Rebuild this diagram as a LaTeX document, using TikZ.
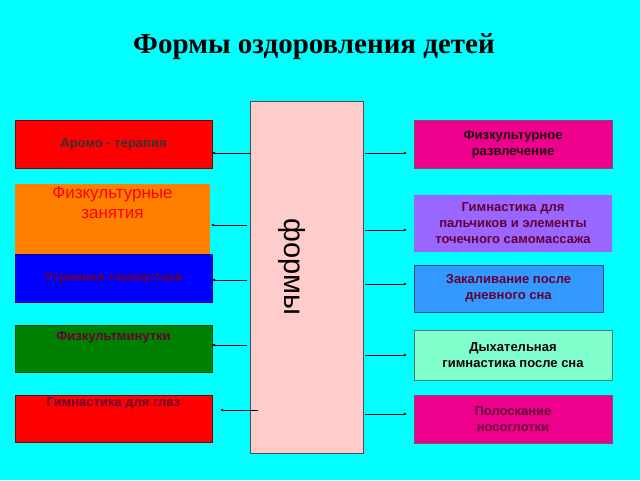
\documentclass[tikz,border=0pt]{standalone}
\usepackage{fontspec}
\setmainfont{Liberation Sans}
\newfontfamily\titlefont{Liberation Serif}
\usetikzlibrary{arrows.meta}
\definecolor{bgcyan}{HTML}{00FFFF}
\definecolor{txtred}{HTML}{660033}
\definecolor{pinkbox}{HTML}{FFCCCC}
\definecolor{purplebox}{HTML}{9966FF}
\definecolor{bluebox}{HTML}{3399FF}
\definecolor{mintbox}{HTML}{80FFCC}
\begin{document}
\begin{tikzpicture}[x=1pt,y=-1pt,
    box/.style n args={3}{draw=#1!50!black,fill=#1,rectangle,
      minimum width=#2pt,minimum height=#3pt,inner sep=0pt,
      align=center,font=\bfseries\fontsize{13}{16}\selectfont,text=txtred},
    arr/.style={-{Latex[length=3pt,width=3pt]},line width=0.5pt}]
    \fill[bgcyan] (0,0) rectangle (640,480);
    \node[font=\titlefont\bfseries\fontsize{29}{34}\selectfont](title) at (314,47) {Формы оздоровления детей};
    % centre column
    \node[draw=black!70,fill=pinkbox,minimum width=113pt,minimum height=352pt,
          inner sep=0pt](forms) at (306.5,277) {};
    \node[rotate=-90,font=\fontsize{29}{34}\selectfont](formstext) at (292,267) {формы};
    % left column
    \node[box={red}{197}{48},text=black!80](aroma) at (113.5,144) {Аромо - терапия};
    \node[box={orange}{195}{70},draw=none,text=red,font=\fontsize{17}{20}\selectfont,
          anchor=north](lessons) at (112.5,184) {Физкультурные\\занятия\\[14pt]};
    \node[box={blue}{197}{48}](morning) at (113.5,278) {Утренняя гимнастика};
    \node[box={green!50!black}{197}{47}](minutes) at (113.5,348.5) {Физкультминутки\\[10pt]};
    \node[box={red}{197}{47}](eyes) at (113.5,418.5) {Гимнастика для глаз\\[16pt]};
    % right column
    \node[box={magenta}{198}{48},text=black!70!txtred](fun) at (513,144) {Физкультурное\\развлечение};
    \node[box={purplebox}{198}{57},draw=none](fingers) at (513,223.5) {Гимнастика для\\пальчиков и элементы\\точечного самомассажа};
    \node[box={bluebox}{189}{47}](harden) at (508.5,288.5) {Закаливание после\\дневного сна};
    \node[box={mintbox}{198}{50},text=black!80!txtred](breath) at (513,355) {Дыхательная\\гимнастика после сна};
    \node[box={magenta}{198}{48}](rinse) at (513,419) {Полоскание\\носоглотки};
    % connectors
    \draw[arr] (forms.west|-0,153) -- (aroma.east|-0,153);
    \draw[arr] ([xshift=-3pt]forms.west|-0,225) -- ([xshift=1pt]lessons.east|-0,225);
    \draw[arr] ([xshift=-3pt]forms.west|-0,280) -- (morning.east|-0,280);
    \draw[arr] ([xshift=-3pt]forms.west|-0,345) -- (minutes.east|-0,345);
    \draw[arr] ([xshift=8pt]forms.west|-0,410) -- ([xshift=8pt]eyes.east|-0,410);
    \draw[arr] ([xshift=2pt]forms.east|-0,153) -- ([xshift=-7pt]fun.west|-0,153);
    \draw[arr] ([xshift=2pt]forms.east|-0,230) -- ([xshift=-7pt]fingers.west|-0,230);
    \draw[arr] ([xshift=2pt]forms.east|-0,284) -- ([xshift=-7pt]harden.west|-0,284);
    \draw[arr] ([xshift=2pt]forms.east|-0,355) -- ([xshift=-7pt]breath.west|-0,355);
    \draw[arr] ([xshift=2pt]forms.east|-0,414) -- ([xshift=-7pt]rinse.west|-0,414);
\end{tikzpicture}
\end{document}
